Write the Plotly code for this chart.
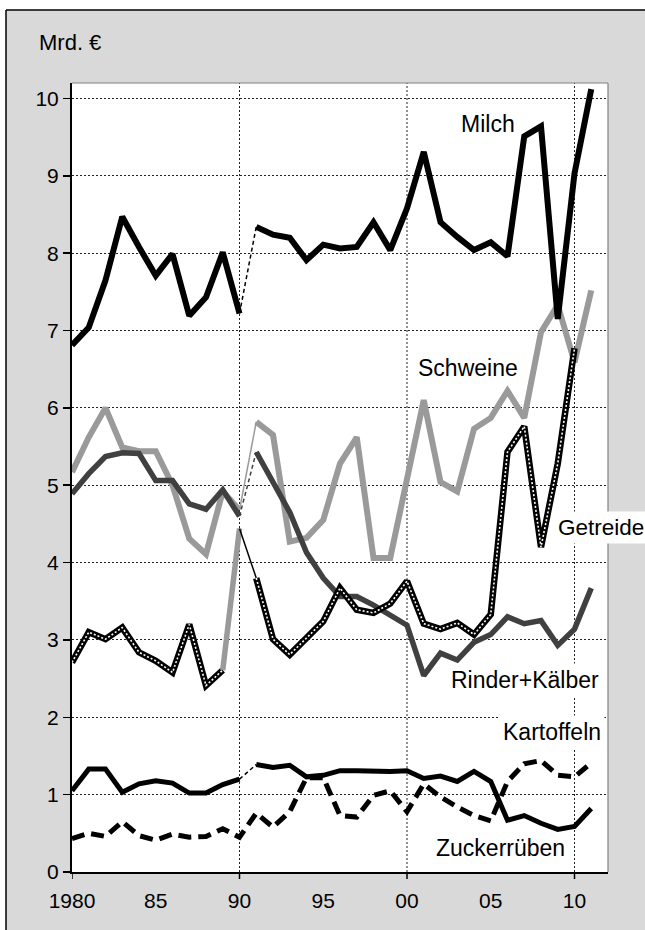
import plotly.graph_objects as go

# ---------------- data (Mrd. €) ----------------
years = list(range(1980, 2012))

milch = [6.81, 7.04, 7.65, 8.47, 8.08, 7.71, 7.99, 7.19, 7.43, 8.01, 7.22,
         8.34, 8.24, 8.20, 7.91, 8.11, 8.06, 8.08, 8.40, 8.04, 8.58,
         9.31, 8.40, 8.21, 8.04, 8.14, 7.96, 9.51, 9.64, 7.15, 9.03, 10.12]

schweine = [5.17, 5.62, 6.00, 5.49, 5.44, 5.44, 5.00, 4.31, 4.11, 4.92, 4.68,
            5.82, 5.65, 4.27, 4.32, 4.55, 5.28, 5.62, 4.06, 4.06, 5.07,
            6.10, 5.04, 4.92, 5.73, 5.87, 6.22, 5.87, 6.98, 7.33, 6.59, 7.52]

getreide = [2.71, 3.10, 3.01, 3.16, 2.84, 2.73, 2.58, 3.20, 2.41, 2.61, 4.44,
            3.80, 3.01, 2.81, 3.02, 3.24, 3.67, 3.39, 3.35, 3.47, 3.76,
            3.21, 3.14, 3.22, 3.07, 3.33, 5.43, 5.76, 4.20, 5.28, 6.77]

rinder = [4.89, 5.15, 5.37, 5.42, 5.41, 5.06, 5.06, 4.76, 4.69, 4.94, 4.60,
          5.43, 5.04, 4.65, 4.13, 3.80, 3.56, 3.56, 3.45, 3.32, 3.19,
          2.54, 2.83, 2.74, 2.97, 3.07, 3.30, 3.21, 3.25, 2.93, 3.14, 3.67]

zuckerrueben = [1.05, 1.33, 1.33, 1.03, 1.14, 1.18, 1.15, 1.02, 1.02, 1.13, 1.20,
                1.39, 1.35, 1.38, 1.23, 1.25, 1.31, 1.31, 1.30, 1.30, 1.31,
                1.21, 1.24, 1.17, 1.30, 1.17, 0.67, 0.73, 0.63, 0.55, 0.59, 0.82]

kartoffeln = [0.43, 0.50, 0.46, 0.65, 0.47, 0.41, 0.49, 0.45, 0.46, 0.56, 0.45,
              0.76, 0.58, 0.78, 1.22, 1.22, 0.73, 0.71, 0.99, 1.05, 0.78,
              1.14, 0.97, 0.84, 0.73, 0.66, 1.17, 1.40, 1.44, 1.25, 1.23, 1.41]

tick_years = [1980, 1985, 1990, 1995, 2000, 2005, 2010]
tick_text = ["1980", "85", "90", "95", "00", "05", "10"]
decade_ticks = [1980, 1990, 2000, 2010]
decade_grid = [1990, 2000, 2010]

labels = ["Milch", "Schweine", "Getreide", "Rinder+Kälber", "Kartoffeln", "Zuckerrüben"]

# ---------------- styles ----------------
BLACK = "#000000"
GREY = "#9a9a9a"
DARK = "#404040"
FONT = "Liberation Sans, Arial, sans-serif"

fig = go.Figure()


def add(x, y, color, width, dash=None):
    fig.add_trace(go.Scatter(x=x, y=y, mode="lines",
                             line=dict(color=color, width=width, dash=dash),
                             hoverinfo="skip", showlegend=False))


pre = slice(0, 11)     # 1980-1990
link = slice(10, 12)   # 1990-1991 (break: West / unified Germany)
post = slice(11, None)  # 1991-

# Schweine
add(years[pre], schweine[pre], GREY, 6)
add(years[link], schweine[link], GREY, 1.5)
add(years[post], schweine[post], GREY, 6)

# Rinder+Kälber
add(years[pre], rinder[pre], DARK, 5.5)
add(years[link], rinder[link], DARK, 1.5, "4px,3px")
add(years[post], rinder[post], DARK, 5.5)

# Getreide (black with white dots)
g_pre = slice(0, 10)
g_grey = slice(9, 11)
g_post = slice(11, len(getreide))
add(years[g_pre], getreide[g_pre], BLACK, 6.5)
add(years[g_pre], getreide[g_pre], "white", 1.6, "2px,2px")
add(years[g_grey], getreide[g_grey], GREY, 5.5)
add(years[link], getreide[link], BLACK, 1.5)
add(years[g_post], getreide[g_post], BLACK, 6.5)
add(years[g_post], getreide[g_post], "white", 1.6, "2px,2px")

# Kartoffeln (dashed)
add(years, kartoffeln, BLACK, 5, "13px,7px")

# Zuckerrüben
add(years[pre], zuckerrueben[pre], BLACK, 5)
add(years[link], zuckerrueben[link], BLACK, 1.5, "4px,3px")
add(years[post], zuckerrueben[post], BLACK, 5)

# Milch
add(years[pre], milch[pre], BLACK, 6)
add(years[link], milch[link], BLACK, 1.5, "4px,3px")
add(years[post], milch[post], BLACK, 6)

# ---------------- layout ----------------
W, H = 645, 930
ML, MR, MT, MB = 72, 37, 83, 58
PW, PH = W - ML - MR, H - MT - MB


def px_x(px):
    return (px - ML) / PW


def px_y(py):
    return (H - MB - py) / PH


shapes = []
# vertical grid lines and decade ticks
for yr in decade_grid:
    shapes.append(dict(type="line", xref="x", yref="paper", x0=yr, x1=yr, y0=0, y1=1,
                       line=dict(color="#222222", width=1, dash="2px,2px"), layer="below"))
for yr in decade_ticks:
    shapes.append(dict(type="line", xref="x", yref="paper", x0=yr, x1=yr,
                       y0=-7 / PH, y1=0, line=dict(color=BLACK, width=1.5), layer="above"))
# plot frame top/right (grey)
shapes.append(dict(type="line", xref="paper", yref="paper", x0=0, x1=1, y0=1, y1=1,
                   line=dict(color="#808080", width=1.2), layer="above"))
shapes.append(dict(type="line", xref="paper", yref="paper", x0=1, x1=1, y0=0, y1=1,
                   line=dict(color="#808080", width=1.2), layer="above"))
# outer white margin strips and black frame
shapes.append(dict(type="rect", xref="paper", yref="paper", x0=px_x(-10), x1=px_x(W + 10),
                   y0=px_y(10), y1=px_y(-10), fillcolor="white", line=dict(width=0), layer="below"))
shapes.append(dict(type="rect", xref="paper", yref="paper", x0=px_x(-10), x1=px_x(6),
                   y0=px_y(H + 10), y1=px_y(-10), fillcolor="white", line=dict(width=0), layer="below"))
shapes.append(dict(type="line", xref="paper", yref="paper", x0=px_x(6), x1=px_x(W + 10),
                   y0=px_y(10), y1=px_y(10), line=dict(color=BLACK, width=1.5), layer="below"))
shapes.append(dict(type="line", xref="paper", yref="paper", x0=px_x(6), x1=px_x(6),
                   y0=px_y(H + 10), y1=px_y(10), line=dict(color=BLACK, width=1.5), layer="below"))

LF = dict(family=FONT, size=23, color=BLACK)
annotations = [
    dict(text="Mrd. €", xref="paper", yref="paper", x=px_x(37), y=px_y(42),
         xanchor="left", yanchor="middle", showarrow=False,
         font=dict(family=FONT, size=22, color=BLACK)),
    dict(text=labels[0], x=2004.85, y=9.67, showarrow=False, font=LF,
         bgcolor="white", borderpad=1),
    dict(text=labels[1], x=2003.63, y=6.52, showarrow=False, font=LF,
         bgcolor="white", borderpad=1),
    dict(text=labels[2], x=2008.8, y=4.45, xanchor="left", showarrow=False,
         font=dict(family=FONT, size=22.5, color=BLACK), bgcolor="white", borderpad=3),
    dict(text=labels[3], x=2007.06, y=2.48, showarrow=False, font=LF,
         bgcolor="white", borderpad=3),
    dict(text=labels[4], x=2008.64, y=1.81, showarrow=False, font=LF,
         bgcolor="white", borderpad=3),
    dict(text=labels[5], x=2005.6, y=0.31, showarrow=False, font=LF,
         bgcolor="white", borderpad=1),
]

fig.update_layout(
    width=W, height=H,
    margin=dict(l=ML, r=MR, t=MT, b=MB, pad=0),
    paper_bgcolor="#d9d9d9",
    plot_bgcolor="white",
    font=dict(family=FONT, color=BLACK),
    showlegend=False,
    shapes=shapes,
    annotations=annotations,
    xaxis=dict(range=[1980, 2012], tickmode="array", tickvals=tick_years, ticktext=tick_text,
               showgrid=False, zeroline=False, ticks="outside", ticklen=9,
               tickcolor="rgba(0,0,0,0)", showline=True, linecolor=BLACK,
               linewidth=2, tickfont=dict(family=FONT, size=21, color=BLACK), fixedrange=True),
    yaxis=dict(range=[0, 10.2], tickmode="linear", tick0=0, dtick=1,
               showgrid=True, gridcolor="#222222", gridwidth=1, griddash="2px,2px",
               zeroline=False, ticks="outside", ticklen=7, tickwidth=1.5, tickcolor=BLACK,
               showline=True, linecolor=BLACK, linewidth=2,
               tickfont=dict(family=FONT, size=21, color=BLACK), fixedrange=True),
)

fig.write_html(
    "out.html",
    config={"displayModeBar": False, "staticPlot": True},
    post_script="document.body.style.margin='0';document.body.style.overflow='hidden';",
)
